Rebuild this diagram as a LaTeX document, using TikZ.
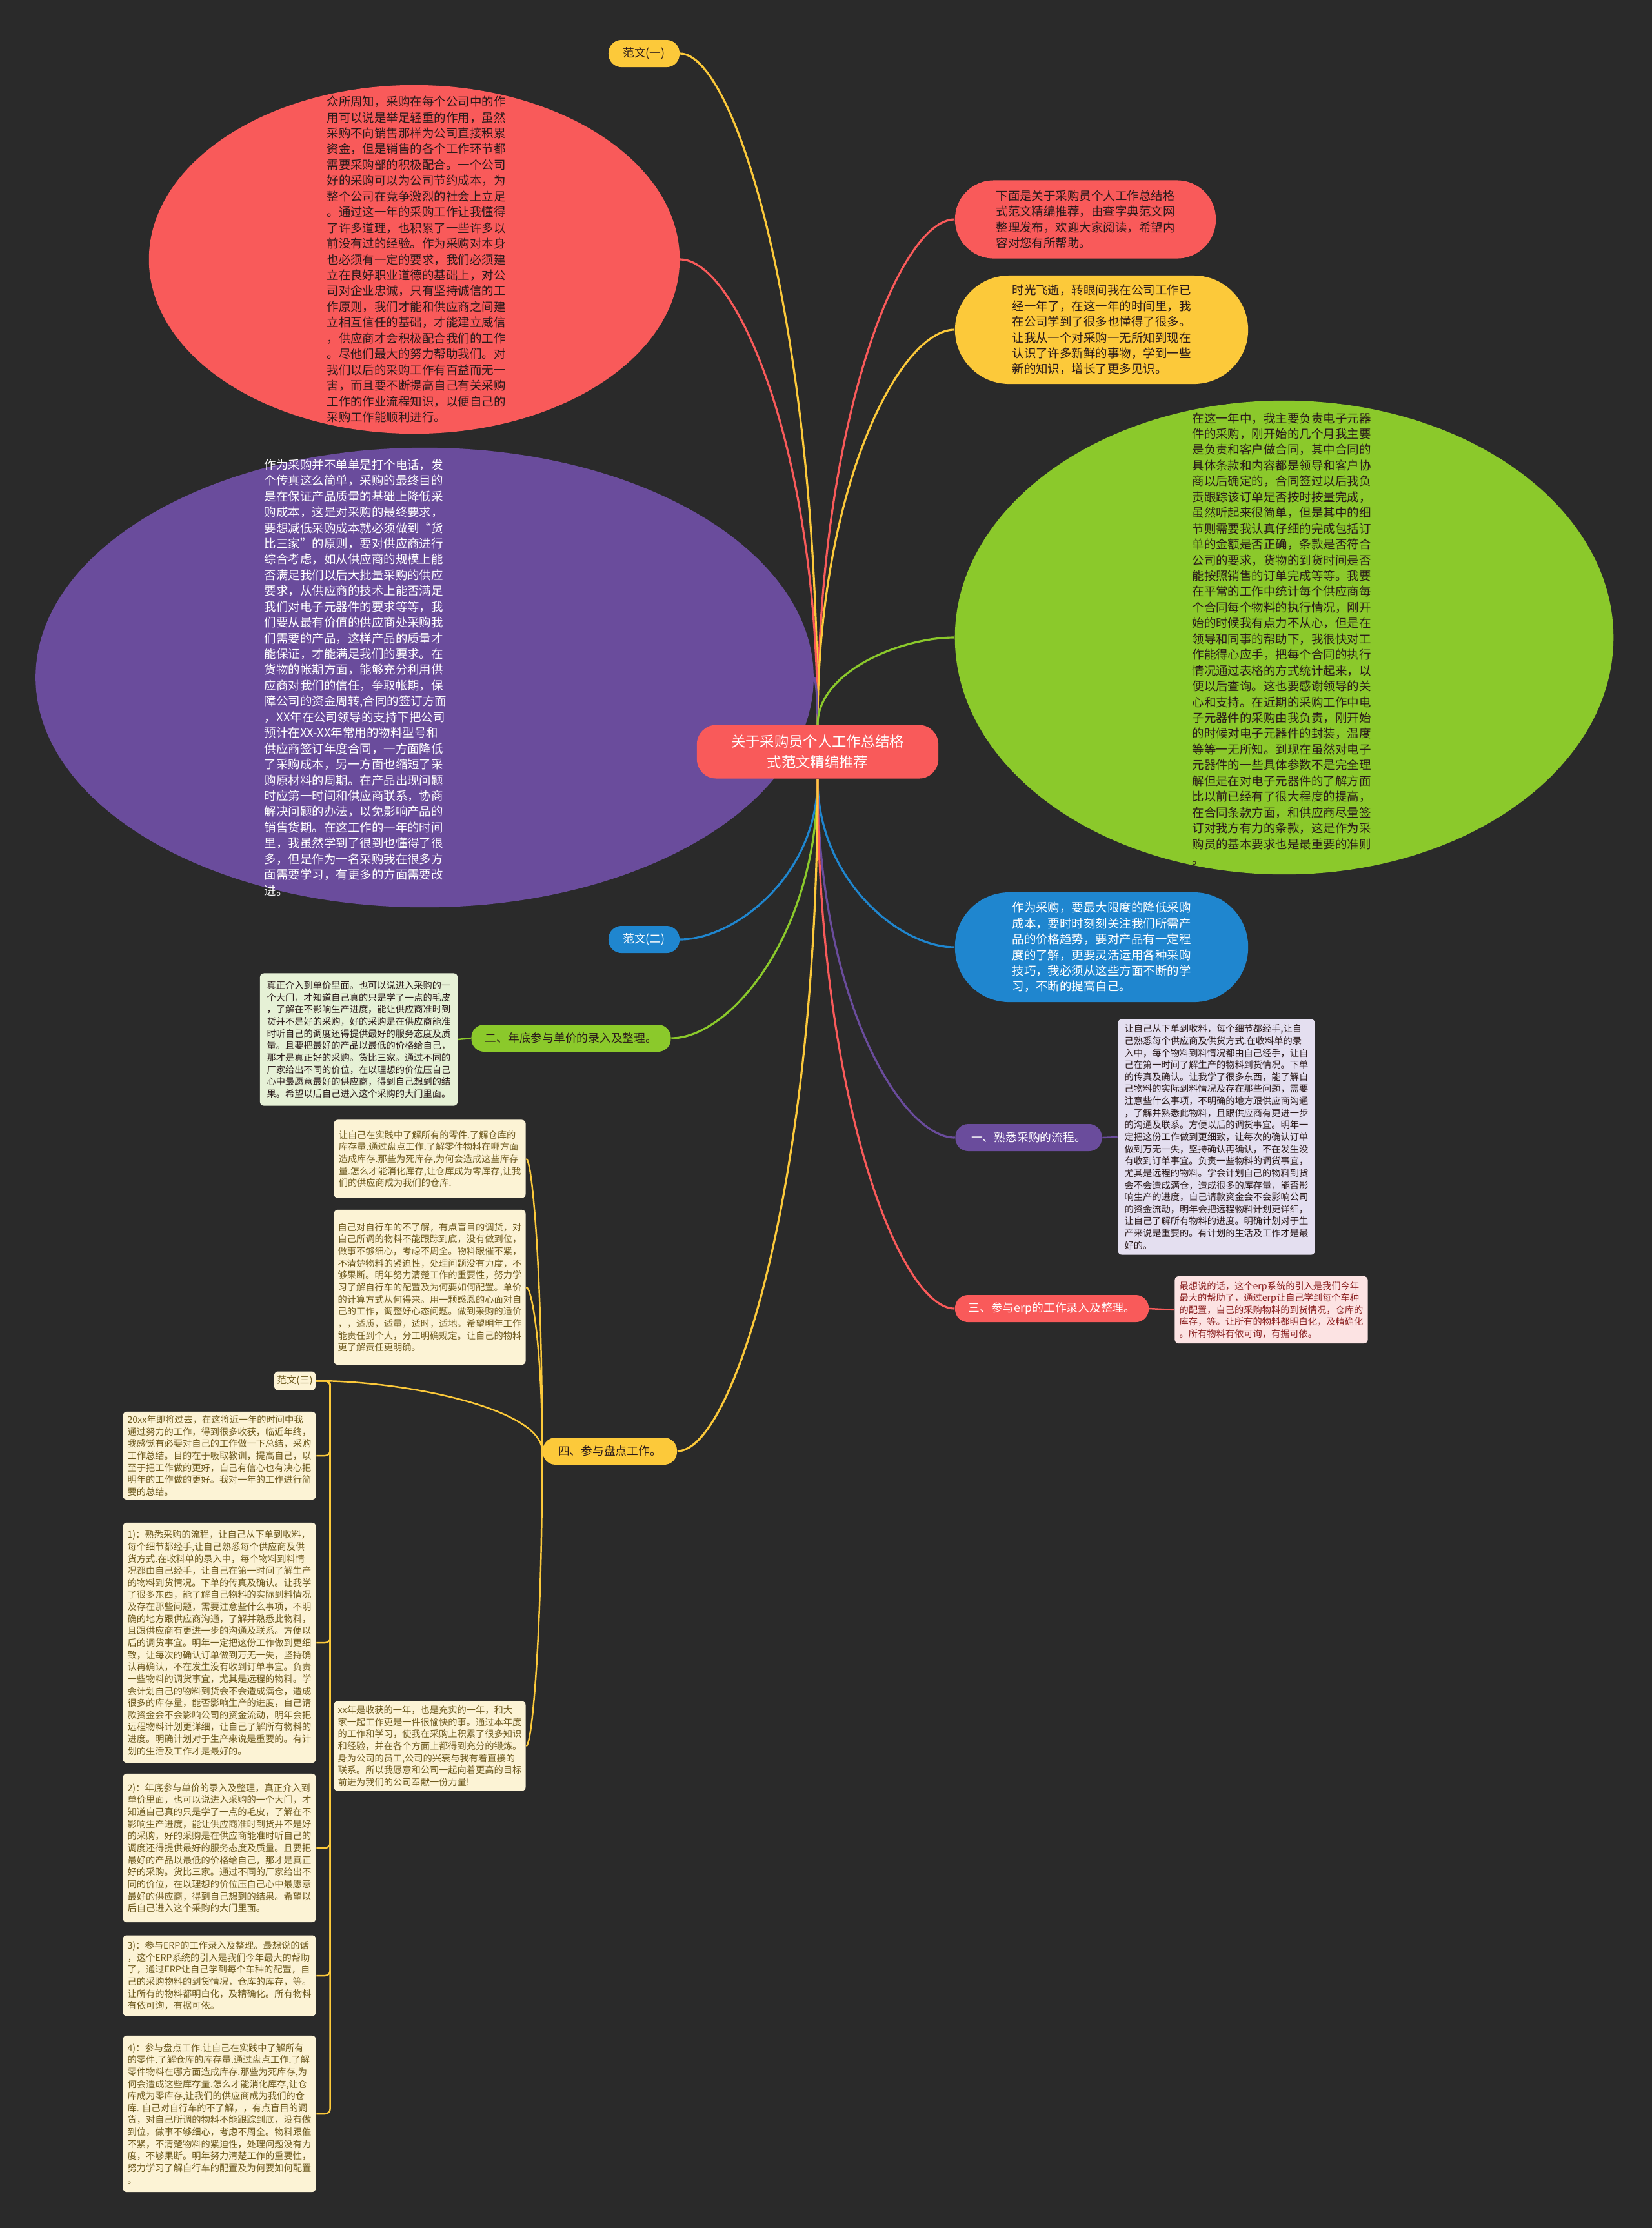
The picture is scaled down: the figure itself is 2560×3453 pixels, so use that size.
\documentclass[tikz,border=0pt]{standalone}
\usepackage{fontspec}
\setmainfont{Noto Sans CJK SC}
\usetikzlibrary{calc,positioning,shapes.geometric}

\definecolor{bgdark}{HTML}{2A2A2A}
\definecolor{mapred}{HTML}{F95A5A}
\definecolor{mappurple}{HTML}{6A4C9C}
\definecolor{mapyellow}{HTML}{FCC93A}
\definecolor{mapgreen}{HTML}{8BC92B}
\definecolor{mapblue}{HTML}{1F86CF}
\definecolor{txtdark}{HTML}{2B1A1A}
\definecolor{cream}{HTML}{FCF3D5}
\definecolor{creamtxt}{HTML}{6E5A1E}
\definecolor{lavender}{HTML}{E4DFF0}
\definecolor{palegreen}{HTML}{E6F1D6}
\definecolor{palepink}{HTML}{FCE3E3}
\definecolor{pinktxt}{HTML}{8A1F1F}

\begin{document}
\begin{tikzpicture}[x=0.01cm, y=-0.01cm,
    bigtxt/.style={font=\fontsize{5.25}{6.95}\selectfont, align=left, inner sep=0pt},
    blob/.style={ellipse, inner sep=0pt},
    pill/.style={rectangle, rounded corners=0.2cm, inner sep=0pt, minimum height=0.42cm, font=\fontsize{5.05}{6}\selectfont},
    note/.style={rectangle, rounded corners=0.06cm, inner sep=0pt, align=left, minimum width=2.99cm, font=\fontsize{4.05}{5.3}\selectfont},
    mm/.style={to path={.. controls ($(\tikztostart)!0.6!(\tikztostart|-\tikztotarget)$) and ($(\tikztotarget)!0.4!(\tikztostart|-\tikztotarget)$) .. (\tikztotarget)}},
    elbow/.style={rounded corners=0.08cm, to path={-- ++(22,0) |- (\tikztotarget)}},
    br/.style={line width=0.9pt},
    sub/.style={line width=0.7pt}]

  \fill[bgdark] (0,0) rectangle (2560,3453);
  \useasboundingbox (0,0) rectangle (2560,3453);

  % Nodes
  \node[pill, fill=mapyellow, text=txtdark, minimum width=1.10cm] (fw1) at (998,83) {范文(一)};
  \node[blob, fill=mapred, minimum width=8.22cm, minimum height=5.40cm] (redblob) at (642,402) {};
  \node[bigtxt, text=txtdark] (redtxt) at (645,402) {众所周知，采购在每个公司中的作\\用可以说是举足轻重的作用，虽然\\采购不向销售那样为公司直接积累\\资金，但是销售的各个工作环节都\\需要采购部的积极配合。一个公司\\好的采购可以为公司节约成本，为\\整个公司在竞争激烈的社会上立足\\。通过这一年的采购工作让我懂得\\了许多道理，也积累了一些许多以\\前没有过的经验。作为采购对本身\\也必须有一定的要求，我们必须建\\立在良好职业道德的基础上，对公\\司对企业忠诚，只有坚持诚信的工\\作原则，我们才能和供应商之间建\\立相互信任的基础，才能建立威信\\，供应商才会积极配合我们的工作\\。尽他们最大的努力帮助我们。对\\我们以后的采购工作有百益而无一\\害，而且要不断提高自己有关采购\\工作的作业流程知识，以便自己的\\采购工作能顺利进行。};
  \node[fill=mapred, rounded corners=0.6cm, minimum width=4.04cm, minimum height=1.21cm, bigtxt, text=txtdark] (intro) at (1682,340) {下面是关于采购员个人工作总结格\\式范文精编推荐，由查字典范文网\\整理发布，欢迎大家阅读，希望内\\容对您有所帮助。};
  \node[fill=mapyellow, rounded corners=0.84cm, minimum width=4.54cm, minimum height=1.68cm, bigtxt, text=txtdark] (yelbox) at (1707,511) {时光飞逝，转眼间我在公司工作已\\经一年了，在这一年的时间里，我\\在公司学到了很多也懂得了很多。\\让我从一个对采购一无所知到现在\\认识了许多新鲜的事物，学到一些\\新的知识，增长了更多见识。};
  \node[blob, fill=mappurple, minimum width=12.05cm, minimum height=7.12cm] (purblob) at (658,1050) {};
  \node[bigtxt, text=white] (purtxt) at (551,1050) {作为采购并不单单是打个电话，发\\个传真这么简单，采购的最终目的\\是在保证产品质量的基础上降低采\\购成本，这是对采购的最终要求，\\要想减低采购成本就必须做到“货\\比三家”的原则，要对供应商进行\\综合考虑，如从供应商的规模上能\\否满足我们以后大批量采购的供应\\要求，从供应商的技术上能否满足\\我们对电子元器件的要求等等，我\\们要从最有价值的供应商处采购我\\们需要的产品，这样产品的质量才\\能保证，才能满足我们的要求。在\\货物的帐期方面，能够充分利用供\\应商对我们的信任，争取帐期，保\\障公司的资金周转,合同的签订方面\\，XX年在公司领导的支持下把公司\\预计在XX-XX年常用的物料型号和\\供应商签订年度合同，一方面降低\\了采购成本，另一方面也缩短了采\\购原材料的周期。在产品出现问题\\时应第一时间和供应商联系，协商\\解决问题的办法，以免影响产品的\\销售货期。在这工作的一年的时间\\里，我虽然学到了很到也懂得了很\\多，但是作为一名采购我在很多方\\面需要学习，有更多的方面需要改\\进。};
  \node[blob, fill=mapgreen, minimum width=10.20cm, minimum height=7.34cm] (grnblob) at (1990,988) {};
  \node[bigtxt, text=txtdark] (grntxt) at (1986,990) {在这一年中，我主要负责电子元器\\件的采购，刚开始的几个月我主要\\是负责和客户做合同，其中合同的\\具体条款和内容都是领导和客户协\\商以后确定的，合同签过以后我负\\责跟踪该订单是否按时按量完成，\\虽然听起来很简单，但是其中的细\\节则需要我认真仔细的完成包括订\\单的金额是否正确，条款是否符合\\公司的要求，货物的到货时间是否\\能按照销售的订单完成等等。我要\\在平常的工作中统计每个供应商每\\个合同每个物料的执行情况，刚开\\始的时候我有点力不从心，但是在\\领导和同事的帮助下，我很快对工\\作能得心应手，把每个合同的执行\\情况通过表格的方式统计起来，以\\便以后查询。这也要感谢领导的关\\心和支持。在近期的采购工作中电\\子元器件的采购由我负责，刚开始\\的时候对电子元器件的封装，温度\\等等一无所知。到现在虽然对电子\\元器件的一些具体参数不是完全理\\解但是在对电子元器件的了解方面\\比以前已经有了很大程度的提高，\\在合同条款方面，和供应商尽量签\\订对我方有力的条款，这是作为采\\购员的基本要求也是最重要的准则\\。};
  \node[fill=mapred, rounded corners=0.3cm, minimum width=3.74cm, minimum height=0.83cm, align=center, text=white, font=\fontsize{6.35}{9.3}\selectfont] (hub) at (1267,1165) {关于采购员个人工作总结格\\式范文精编推荐};
  \node[pill, fill=mapblue, text=white, minimum width=1.10cm] (fw2) at (998,1456) {范文(二)};
  \node[fill=mapblue, rounded corners=0.84cm, minimum width=4.54cm, minimum height=1.70cm, bigtxt, text=white] (blubox) at (1707,1468) {作为采购，要最大限度的降低采购\\成本，要时时刻刻关注我们所需产\\品的价格趋势，要对产品有一定程\\度的了解，更要灵活运用各种采购\\技巧，我必须从这些方面不断的学\\习，不断的提高自己。};

  \node[pill, fill=mapgreen, text=txtdark, minimum width=3.09cm] (lab2) at (885,1609) {二、年底参与单价的录入及整理。};
  \node[note, fill=palegreen, text=txtdark, minimum width=3.06cm, minimum height=2.05cm] (box2) at (556,1611) {真正介入到单价里面。也可以说进入采购的一\\个大门，才知道自己真的只是学了一点的毛皮\\，了解在不影响生产进度，能让供应商准时到\\货并不是好的采购，好的采购是在供应商能准\\时听自己的调度还得提供最好的服务态度及质\\量。且要把最好的产品以最低的价格给自己，\\那才是真正好的采购。货比三家。通过不同的\\厂家给出不同的价位，在以理想的价位压自己\\心中最愿意最好的供应商，得到自己想到的结\\果。希望以后自己进入这个采购的大门里面。};
  \node[pill, fill=mappurple, text=white, minimum width=2.27cm] (lab1) at (1594,1763) {一、熟悉采购的流程。};
  \node[note, fill=lavender, text=txtdark, minimum width=3.05cm, minimum height=3.65cm] (box1) at (1885,1762) {让自己从下单到收料，每个细节都经手,让自\\己熟悉每个供应商及供货方式.在收料单的录\\入中，每个物料到料情况都由自己经手，让自\\己在第一时间了解生产的物料到货情况。下单\\的传真及确认。让我学了很多东西，能了解自\\己物料的实际到料情况及存在那些问题，需要\\注意些什么事项，不明确的地方跟供应商沟通\\，了解并熟悉此物料，且跟供应商有更进一步\\的沟通及联系。方便以后的调货事宜。明年一\\定把这份工作做到更细致，让每次的确认订单\\做到万无一失，坚持确认再确认，不在发生没\\有收到订单事宜。负责一些物料的调货事宜，\\尤其是远程的物料。学会计划自己的物料到货\\会不会造成满仓，造成很多的库存量，能否影\\响生产的进度，自己请款资金会不会影响公司\\的资金流动，明年会把远程物料计划更详细，\\让自己了解所有物料的进度。明确计划对于生\\产来说是重要的。有计划的生活及工作才是最\\好的。};
  \node[pill, fill=mapred, text=white, minimum width=3.00cm] (lab3) at (1630,2028) {三、参与erp的工作录入及整理。};
  \node[note, fill=palepink, text=pinktxt, minimum width=2.99cm, minimum height=1.04cm] (box3) at (1970,2030) {最想说的话，这个erp系统的引入是我们今年\\最大的帮助了，通过erp让自己学到每个车种\\的配置，自己的采购物料的到货情况，仓库的\\库存，等。让所有的物料都明白化，及精确化\\。所有物料有依可询，有据可依。};
  \node[pill, fill=mapyellow, text=txtdark, minimum width=2.08cm] (lab4) at (945,2249) {四、参与盘点工作。};

  \node[note, fill=cream, text=creamtxt, minimum width=2.97cm, minimum height=1.21cm] (pd1) at (666,1796) {让自己在实践中了解所有的零件.了解仓库的\\库存量.通过盘点工作.了解零件物料在哪方面\\造成库存.那些为死库存,为何会造成这些库存\\量.怎么才能消化库存,让仓库成为零库存,让我\\们的供应商成为我们的仓库.};
  \node[note, fill=cream, text=creamtxt, minimum width=2.97cm, minimum height=2.40cm] (pd2) at (666,1995) {自己对自行车的不了解，有点盲目的调货，对\\自己所调的物料不能跟踪到底，没有做到位，\\做事不够细心，考虑不周全。物料跟催不紧，\\不清楚物料的紧迫性，处理问题没有力度，不\\够果断。明年努力清楚工作的重要性，努力学\\习了解自行车的配置及为何要如何配置。单价\\的计算方式从何得来。用一颗感恩的心面对自\\己的工作，调整好心态问题。做到采购的适价\\，，适质，适量，适时，适地。希望明年工作\\能责任到个人，分工明确规定。让自己的物料\\更了解责任更明确。};
  \node[note, fill=cream, text=creamtxt, align=center, minimum width=0.64cm, minimum height=0.29cm, font=\fontsize{4.3}{5.3}\selectfont] (fw3) at (457,2140) {范文(三)};
  \node[note, fill=cream, text=creamtxt, minimum width=2.97cm, minimum height=1.39cm] (xxbox) at (666,2706) {xx年是收获的一年，也是充实的一年，和大\\家一起工作更是一件很愉快的事。通过本年度\\的工作和学习，使我在采购上积累了很多知识\\和经验，并在各个方面上都得到充分的锻炼。\\身为公司的员工,公司的兴衰与我有着直接的\\联系。所以我愿意和公司一起向着更高的目标\\前进为我们的公司奉献一份力量!};

  \node[note, fill=cream, text=creamtxt, minimum height=1.36cm] (sum1) at (340,2256) {20xx年即将过去，在这将近一年的时间中我\\通过努力的工作，得到很多收获，临近年终，\\我感觉有必要对自己的工作做一下总结，采购\\工作总结。目的在于吸取教训，提高自己，以\\至于把工作做的更好，自己有信心也有决心把\\明年的工作做的更好。我对一年的工作进行简\\要的总结。};
  \node[note, fill=cream, text=creamtxt, minimum height=3.72cm] (sum2) at (340,2546) {1)：熟悉采购的流程，让自己从下单到收料，\\每个细节都经手,让自己熟悉每个供应商及供\\货方式.在收料单的录入中，每个物料到料情\\况都由自己经手，让自己在第一时间了解生产\\的物料到货情况。下单的传真及确认。让我学\\了很多东西，能了解自己物料的实际到料情况\\及存在那些问题，需要注意些什么事项，不明\\确的地方跟供应商沟通，了解并熟悉此物料，\\且跟供应商有更进一步的沟通及联系。方便以\\后的调货事宜。明年一定把这份工作做到更细\\致，让每次的确认订单做到万无一失，坚持确\\认再确认，不在发生没有收到订单事宜。负责\\一些物料的调货事宜，尤其是远程的物料。学\\会计划自己的物料到货会不会造成满仓，造成\\很多的库存量，能否影响生产的进度，自己请\\款资金会不会影响公司的资金流动，明年会把\\远程物料计划更详细，让自己了解所有物料的\\进度。明确计划对于生产来说是重要的。有计\\划的生活及工作才是最好的。};
  \node[note, fill=cream, text=creamtxt, minimum height=2.30cm] (sum3) at (340,2864) {2)：年底参与单价的录入及整理，真正介入到\\单价里面，也可以说进入采购的一个大门，才\\知道自己真的只是学了一点的毛皮，了解在不\\影响生产进度，能让供应商准时到货并不是好\\的采购，好的采购是在供应商能准时听自己的\\调度还得提供最好的服务态度及质量。且要把\\最好的产品以最低的价格给自己，那才是真正\\好的采购。货比三家。通过不同的厂家给出不\\同的价位，在以理想的价位压自己心中最愿意\\最好的供应商，得到自己想到的结果。希望以\\后自己进入这个采购的大门里面。};
  \node[note, fill=cream, text=creamtxt, minimum height=1.25cm] (sum4) at (340,3062) {3)：参与ERP的工作录入及整理。最想说的话\\，这个ERP系统的引入是我们今年最大的帮助\\了，通过ERP让自己学到每个车种的配置，自\\己的采购物料的到货情况，仓库的库存，等。\\让所有的物料都明白化，及精确化。所有物料\\有依可询，有据可依。};
  \node[note, fill=cream, text=creamtxt, minimum height=2.42cm] (sum5) at (340,3276) {4)：参与盘点工作.让自己在实践中了解所有\\的零件.了解仓库的库存量.通过盘点工作.了解\\零件物料在哪方面造成库存.那些为死库存,为\\何会造成这些库存量.怎么才能消化库存,让仓\\库成为零库存,让我们的供应商成为我们的仓\\库. 自己对自行车的不了解，，有点盲目的调\\货，对自己所调的物料不能跟踪到底，没有做\\到位，做事不够细心，考虑不周全。物料跟催\\不紧，不清楚物料的紧迫性，处理问题没有力\\度，不够果断。明年努力清楚工作的重要性，\\努力学习了解自行车的配置及为何要如何配置\\。};

  % Edges
  \draw[br, mapyellow] (hub.north) to[mm] (fw1.east);
  \draw[br, mapred] (hub.north) to[mm] (redblob.east);
  \draw[br, mapred] (hub.north) to[mm] (intro.west);
  \draw[br, mapyellow] (hub.north) to[mm] (yelbox.west);
  \draw[br, mappurple] (hub.north) to[mm] (purblob.east);
  \draw[br, mapgreen] (hub.north) to[mm] (grnblob.west);
  \draw[br, mapblue] (hub.south) to[mm] (fw2.east);
  \draw[br, mapblue] (hub.south) to[mm] (blubox.west);
  \draw[br, mapgreen] (hub.south) to[mm] (lab2.east);
  \draw[br, mappurple] (hub.south) to[mm] (lab1.west);
  \draw[br, mapred] (hub.south) to[mm] (lab3.west);
  \draw[br, mapyellow] (hub.south) to[mm] (lab4.east);

  \draw[sub, mapgreen] (lab2.west) -- (box2.east);
  \draw[sub, mappurple] (lab1.east) -- (box1.west);
  \draw[sub, mapred] (lab3.east) -- (box3.west);
  \foreach \t in {pd1,pd2,fw3,xxbox}
    \draw[sub, mapyellow] (lab4.west) to[mm] (\t.east);
  \foreach \k in {1,...,5}
    \draw[sub, mapyellow] (fw3.east) to[elbow] (sum\k.east);

\end{tikzpicture}
\end{document}
